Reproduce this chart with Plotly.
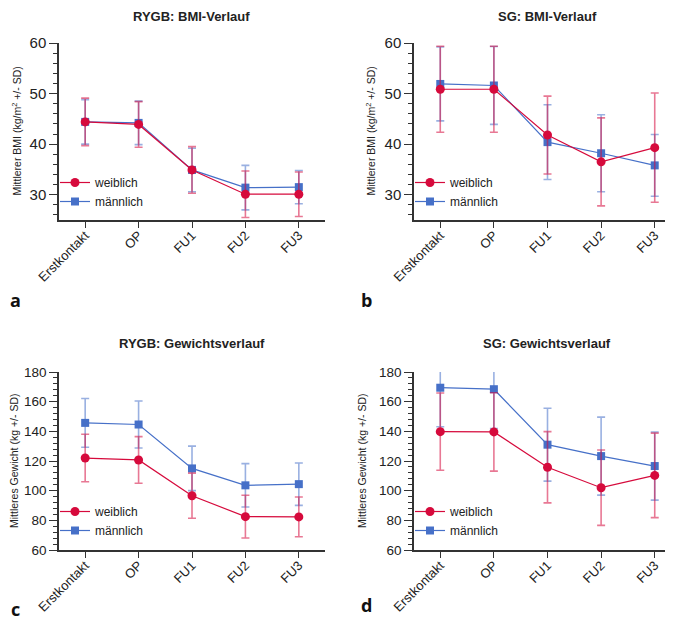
import plotly.graph_objects as go

W, H = 673, 620

categories = ["Erstkontakt", "OP", "FU1", "FU2", "FU3"]
series_names = ["weiblich", "männlich"]

# Panel a: RYGB BMI
rygb_bmi_w = [44.4, 43.9, 34.9, 30.1, 30.1]
rygb_bmi_w_sd = [4.7, 4.5, 4.6, 4.6, 4.4]
rygb_bmi_m = [44.4, 44.2, 34.9, 31.4, 31.5]
rygb_bmi_m_sd = [4.4, 4.3, 4.3, 4.4, 3.3]

# Panel b: SG BMI
sg_bmi_w = [50.85, 50.85, 41.8, 36.5, 39.3]
sg_bmi_w_sd = [8.5, 8.5, 7.7, 8.7, 10.8]
sg_bmi_m = [51.9, 51.6, 40.4, 38.2, 35.8]
sg_bmi_m_sd = [7.3, 7.7, 7.4, 7.6, 6.1]

# Panel c: RYGB weight
rygb_kg_w = [122.0, 120.7, 96.6, 82.5, 82.3]
rygb_kg_w_sd = [16.0, 15.7, 15.2, 14.4, 13.4]
rygb_kg_m = [145.7, 144.6, 115.0, 103.6, 104.4]
rygb_kg_m_sd = [16.4, 15.8, 15.0, 14.6, 14.3]

# Panel d: SG weight
sg_kg_w = [139.8, 139.6, 115.8, 102.0, 110.3]
sg_kg_w_sd = [26.0, 26.4, 24.0, 25.4, 28.5]
sg_kg_m = [169.4, 168.4, 131.0, 123.3, 116.6]
sg_kg_m_sd = [26.3, 26.5, 24.6, 26.3, 23.0]

titles = ["RYGB: BMI-Verlauf", "SG: BMI-Verlauf", "RYGB: Gewichtsverlauf", "SG: Gewichtsverlauf"]
ytitles = ["Mittlerer BMI (kg/m<sup>2</sup> +/- SD)", "Mittlerer BMI (kg/m<sup>2</sup> +/- SD)",
           "Mittleres Gewicht (kg +/- SD)", "Mittleres Gewicht (kg +/- SD)"]
panel_letters = ["a", "b", "c", "d"]

RED = "#D60A3C"
BLUE = "#4670C8"
RED_EB = "rgba(214,10,60,0.55)"
BLUE_EB = "rgba(70,112,200,0.55)"
FONT = "Arial, Liberation Sans, sans-serif"

panels = [
    (rygb_bmi_w, rygb_bmi_w_sd, rygb_bmi_m, rygb_bmi_m_sd),
    (sg_bmi_w, sg_bmi_w_sd, sg_bmi_m, sg_bmi_m_sd),
    (rygb_kg_w, rygb_kg_w_sd, rygb_kg_m, rygb_kg_m_sd),
    (sg_kg_w, sg_kg_w_sd, sg_kg_m, sg_kg_m_sd),
]

# pixel layout of plot areas (left, right, top, bottom)
boxes = [(51, 317, 35, 212), (406, 673, 35, 212), (51, 317, 364, 542), (406, 673, 364, 542)]

fig = go.Figure()
xidx = list(range(len(categories)))

for i, (w, wsd, m, msd) in enumerate(panels):
    ax = "" if i == 0 else str(i + 1)
    leg = "legend" if i == 0 else f"legend{i + 1}"
    fig.add_trace(go.Scatter(
        x=xidx, y=m, mode="lines+markers", name=series_names[1],
        xaxis="x" + ax, yaxis="y" + ax, legend=leg, legendrank=2,
        line=dict(color=BLUE, width=1.2),
        marker=dict(symbol="square", size=8, color=BLUE),
        error_y=dict(type="data", array=msd, visible=True, color=BLUE_EB, thickness=1.6, width=4),
    ))
    fig.add_trace(go.Scatter(
        x=xidx, y=w, mode="lines+markers", name=series_names[0],
        xaxis="x" + ax, yaxis="y" + ax, legend=leg, legendrank=1,
        line=dict(color=RED, width=1.2),
        marker=dict(symbol="circle", size=9, color=RED),
        error_y=dict(type="data", array=wsd, visible=True, color=RED_EB, thickness=1.6, width=4),
    ))

layout = dict(
    template="none",
    width=W, height=H, margin=dict(l=0, r=0, t=0, b=0, autoexpand=False),
    paper_bgcolor="white", plot_bgcolor="white",
    font=dict(family=FONT, color="#222222"),
    showlegend=True,
)
annotations = []
for i, (l, r, t, b) in enumerate(boxes):
    ax = "" if i == 0 else str(i + 1)
    bmi = i < 2
    layout["xaxis" + ax] = dict(
        domain=[l / W, r / W], anchor="y" + ax, automargin=False,
        range=[-0.49, 4.49], tickmode="array", tickvals=xidx, ticktext=categories,
        tickangle=-45, ticks="outside", ticklen=6, tickwidth=1.2, tickcolor="#333",
        ticklabelstandoff=-5,
        showline=True, linecolor="#333", linewidth=1.5, showgrid=False, zeroline=False,
        tickfont=dict(size=13, family=FONT, color="#222"),
    )
    layout["yaxis" + ax] = dict(
        domain=[1 - b / H, 1 - t / H], anchor="x" + ax, automargin=False,
        range=[25, 60] if bmi else [60, 180],
        tickmode="linear", tick0=0, dtick=10 if bmi else 20,
        ticks="outside", ticklen=8, tickwidth=1.2, tickcolor="#333",
        minor=dict(ticks="outside", dtick=2 if bmi else 4, ticklen=4, tickwidth=1, tickcolor="#333"),
        showline=True, linecolor="#333", linewidth=1.5, showgrid=False, zeroline=False,
        tickfont=dict(size=15 if bmi else 13.5, family=FONT, color="#222"),
    )
    leg = "legend" if i == 0 else f"legend{i + 1}"
    layout[leg] = dict(
        x=(l - 4) / W, y=1 - (t + 125) / H,
        xanchor="left", yanchor="top", bgcolor="rgba(0,0,0,0)",
        font=dict(size=12, family=FONT, color="#222"), tracegroupgap=0,
        itemwidth=30,
    )
    annotations.append(dict(
        text="<b>" + titles[i] + "</b>", x=(l + 133) / W, y=1 - ((8 if i < 2 else 335)) / H,
        xref="paper", yref="paper", showarrow=False, xanchor="center", yanchor="middle",
        font=dict(size=13, family=FONT, color="#222"),
    ))
    ytx = [8, 362, 6, 354][i]
    annotations.append(dict(
        text=ytitles[i], x=ytx / W, y=1 - ((t + b) / 2) / H, textangle=-90,
        xref="paper", yref="paper", showarrow=False, xanchor="center", yanchor="middle",
        font=dict(size=10.5, family=FONT, color="#222"),
    ))
    lx = [7, 358, 7, 358][i]
    ly = [292, 292, 601, 597][i]
    annotations.append(dict(
        text="<b>" + panel_letters[i] + "</b>", x=lx / W, y=1 - ly / H,
        xref="paper", yref="paper", showarrow=False, xanchor="center", yanchor="middle",
        font=dict(size=18, family="Open Sans, sans-serif", color="#111"),
    ))

layout["annotations"] = annotations
fig.update_layout(**layout)
fig.write_html("out.html")
